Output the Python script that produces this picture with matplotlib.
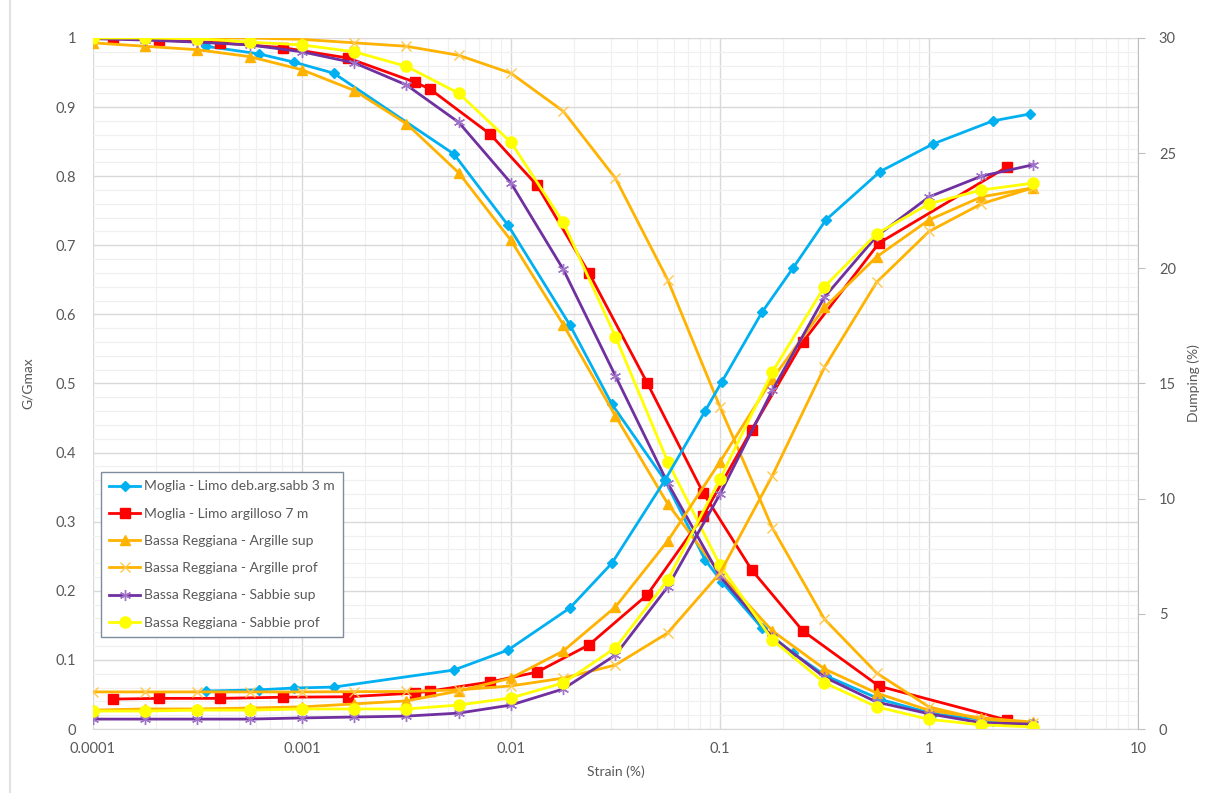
import matplotlib
matplotlib.use('Agg')
import matplotlib.pyplot as plt
from matplotlib.lines import Line2D
from matplotlib.ticker import MultipleLocator, LogLocator, NullFormatter

plt.rcParams['font.family'] = ['Lato', 'DejaVu Sans']

# Moglia - Limo deb.arg.sabb 3 m
moglia3_strain = [0.000347, 0.000622, 0.000916, 0.00142, 0.00533, 0.00968, 0.0191, 0.0304,
                  0.0545, 0.0848, 0.102, 0.159, 0.223, 0.321, 0.583, 1.045, 2.02, 3.04]
moglia3_g = [0.988, 0.977, 0.965, 0.949, 0.832, 0.729, 0.585, 0.470,
             0.360, 0.245, 0.213, 0.146, 0.110, 0.077, 0.043, 0.022, 0.012, 0.007]
moglia3_d = [1.65, 1.70, 1.78, 1.82, 2.56, 3.43, 5.25, 7.20,
             10.8, 13.8, 15.07, 18.1, 20.0, 22.1, 24.2, 25.4, 26.4, 26.7]

# Moglia - Limo argilloso 7 m
moglia7_strain = [0.000125, 0.000207, 0.000406, 0.000811, 0.00166, 0.00347, 0.00410, 0.00794,
                  0.0133, 0.0236, 0.0448, 0.083, 0.142, 0.249, 0.577, 2.36]
moglia7_g = [1.0, 0.997, 0.993, 0.986, 0.971, 0.936, 0.926, 0.861,
             0.787, 0.660, 0.501, 0.342, 0.230, 0.142, 0.062, 0.013]
moglia7_d = [1.30, 1.33, 1.33, 1.38, 1.40, 1.56, 1.65, 2.04,
             2.47, 3.65, 5.82, 9.25, 13.0, 16.8, 21.1, 24.4]

# Bassa Reggiana curves share the same strain steps
bassa_strain = [0.0001, 0.000178, 0.000316, 0.000562, 0.001, 0.00178, 0.00316, 0.00562, 0.01,
                0.0178, 0.0316, 0.0562, 0.1, 0.178, 0.316, 0.562, 1.0, 1.78, 3.16]
arg_sup_g = [0.993, 0.988, 0.983, 0.973, 0.954, 0.924, 0.876, 0.805, 0.707,
             0.585, 0.453, 0.326, 0.225, 0.142, 0.087, 0.052, 0.027, 0.016, 0.010]
arg_sup_d = [0.82, 0.87, 0.87, 0.91, 0.96, 1.09, 1.22, 1.65, 2.21,
             3.39, 5.30, 8.16, 11.6, 15.2, 18.3, 20.5, 22.1, 23.1, 23.5]
arg_prof_g = [1.0, 1.0, 1.0, 1.0, 0.998, 0.993, 0.988, 0.975, 0.949,
              0.894, 0.797, 0.650, 0.466, 0.291, 0.159, 0.081, 0.032, 0.014, 0.009]
arg_prof_d = [1.61, 1.61, 1.61, 1.61, 1.61, 1.62, 1.63, 1.70, 1.87,
              2.21, 2.78, 4.17, 6.77, 11.0, 15.7, 19.4, 21.6, 22.8, 23.5]
sab_sup_g = [0.999, 0.997, 0.994, 0.990, 0.980, 0.964, 0.932, 0.878, 0.790,
             0.665, 0.511, 0.356, 0.221, 0.133, 0.075, 0.039, 0.022, 0.009, 0.007]
sab_sup_d = [0.43, 0.43, 0.43, 0.43, 0.48, 0.52, 0.56, 0.69, 1.04,
             1.74, 3.21, 6.17, 10.2, 14.7, 18.75, 21.4, 23.1, 24.0, 24.5]
sab_prof_g = [1.0, 1.0, 0.999, 0.994, 0.990, 0.980, 0.959, 0.920, 0.849,
              0.733, 0.568, 0.387, 0.237, 0.129, 0.067, 0.032, 0.014, 0.006, 0.003]
sab_prof_d = [0.78, 0.78, 0.82, 0.82, 0.87, 0.87, 0.87, 1.04, 1.35,
              2.0, 3.52, 6.47, 10.85, 15.5, 19.2, 21.5, 22.8, 23.4, 23.7]

labels = ['Moglia - Limo deb.arg.sabb 3 m', 'Moglia - Limo argilloso 7 m',
          'Bassa Reggiana - Argille sup', 'Bassa Reggiana - Argille prof',
          'Bassa Reggiana - Sabbie sup', 'Bassa Reggiana - Sabbie prof']

x_ticks = [0.0001, 0.001, 0.01, 0.1, 1, 10]
x_labels = ['0.0001', '0.001', '0.01', '0.1', '1', '10']

ORANGE = '#FFB300'
series = [
    (moglia3_strain, moglia3_g, moglia3_d, dict(color='#00B0F0', marker='D', ms=5)),
    (moglia7_strain, moglia7_g, moglia7_d, dict(color='#FF0000', marker='s', ms=7.5)),
    (bassa_strain, arg_sup_g, arg_sup_d, dict(color=ORANGE, marker='^', ms=7.5)),
    (bassa_strain, arg_prof_g, arg_prof_d, dict(color=ORANGE, marker='x', ms=7, mew=1,
                                                mec='#FFC84A')),
    (bassa_strain, sab_sup_g, sab_sup_d, dict(color='#7030A0', marker=(6, 2, 0), ms=8, mew=1,
                                              mec='#9F73C8')),
    (bassa_strain, sab_prof_g, sab_prof_d, dict(color='#FFFF00', marker='o', ms=8)),
]

text_col = '#595959'
fig = plt.figure(figsize=(12.14, 7.93), dpi=100)
ax = fig.add_axes([0.0766, 0.0807, 0.8608, 0.8714])
ax2 = ax.twinx()

# thin frame line on the left edge of the chart area
fig.add_artist(Line2D([10 / 1214, 10 / 1214], [0, 1], transform=fig.transFigure,
                      color='#E3E3E3', lw=1.5))

handles = []
for (strain, g, d, style), lab in zip(series, labels):
    h, = ax.plot(strain, g, lw=2, label=lab, **style)
    ax2.plot(strain, d, lw=2, **style)
    handles.append(h)

ax.set_xscale('log')
ax.set_xlim(0.0001, 10)
ax.set_ylim(0, 1)
ax2.set_ylim(0, 30)

ax.set_xticks(x_ticks)
ax.set_xticklabels(x_labels)
ax.xaxis.set_minor_locator(LogLocator(base=10, subs=range(2, 10), numticks=20))
ax.xaxis.set_minor_formatter(NullFormatter())
ax.set_yticks([i / 10 for i in range(11)])
ax.set_yticklabels(['0'] + ['0.%d' % i for i in range(1, 10)] + ['1'])
ax.yaxis.set_minor_locator(MultipleLocator(0.02))
ax2.set_yticks(range(0, 31, 5))

ax.grid(which='major', color='#D9D9D9', lw=1)
ax.grid(which='minor', color='#F0F0F0', lw=0.9)
ax.set_axisbelow(True)

for a in (ax, ax2):
    for s in a.spines.values():
        s.set_visible(False)
ax2.spines['right'].set_visible(True)
ax2.spines['right'].set_color('#BFBFBF')
ax.spines['bottom'].set_visible(True)
ax.spines['bottom'].set_color('#D9D9D9')

ax.tick_params(axis='both', which='both', length=0, labelsize=10.5, colors=text_col)
ax.tick_params(axis='y', pad=12)
ax.tick_params(axis='x', pad=9)
ax2.tick_params(axis='y', length=5, color='#BFBFBF', labelsize=10.5, colors=text_col, pad=10)
ax2.tick_params(axis='y', which='minor', length=0)

ax.set_xlabel('Strain (%)', fontsize=10, color=text_col, labelpad=7)
ax.set_ylabel('G/Gmax', fontsize=10, color=text_col, labelpad=16)
ax2.set_ylabel('Dumping (%)', fontsize=10, color=text_col, labelpad=8)

# legend lives on the top axes so it sits above the damping curves
leg = ax2.legend(handles=handles, loc='lower left', bbox_to_anchor=(0.0077, 0.133),
                 borderaxespad=0, fontsize=10, frameon=True, fancybox=False, framealpha=1,
                 handlelength=2.2, labelspacing=1.1, borderpad=0.6, handletextpad=0.3)
leg.get_frame().set_edgecolor('#7F8C9D')
leg.get_frame().set_linewidth(1)
for t in leg.get_texts():
    t.set_color(text_col)

fig.savefig('out.png', dpi=100)
